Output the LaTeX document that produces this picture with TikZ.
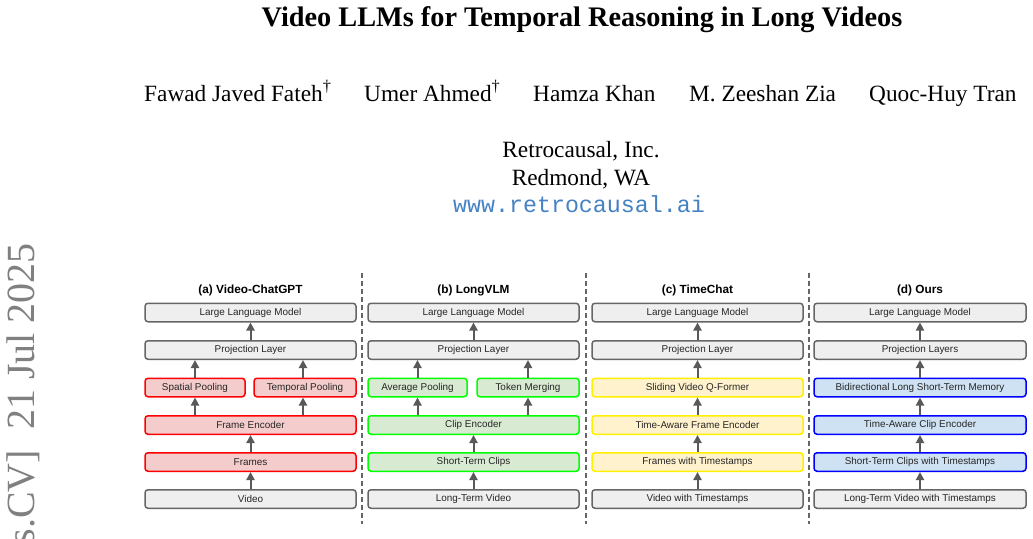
\documentclass[tikz,border=0pt]{standalone}
\usepackage{fontspec}
\setmainfont{Liberation Serif}
\setmonofont{Liberation Mono}
\newfontfamily\arialf{Liberation Sans}
\usetikzlibrary{arrows.meta}
\definecolor{gfill}{HTML}{EFEFEF}
\definecolor{gdraw}{HTML}{666666}
\definecolor{rfill}{HTML}{F4CCCC}
\definecolor{rdraw}{HTML}{FF0000}
\definecolor{grfill}{HTML}{D9EAD3}
\definecolor{grdraw}{HTML}{00FF00}
\definecolor{yfill}{HTML}{FFF2CC}
\definecolor{ydraw}{HTML}{FFF000}
\definecolor{bfill}{HTML}{CFE2F3}
\definecolor{bdraw}{HTML}{0000FF}
\definecolor{arrgray}{HTML}{595959}
\definecolor{linkblue}{RGB}{70,130,195}
\tikzset{
  box/.style={rounded corners=3pt, line width=1.5pt, minimum height=18.5pt, inner sep=0pt,
    font=\arialf\fontsize{9.9}{11}\selectfont, text=black!85},
  gbox/.style={box, draw=gdraw, fill=gfill},
  rbox/.style={box, draw=rdraw, fill=rfill},
  grbox/.style={box, draw=grdraw, fill=grfill},
  ybox/.style={box, draw=ydraw, fill=yfill},
  bbox/.style={box, draw=bdraw, fill=bfill},
  arr/.style={draw=arrgray, line width=2pt, -{Triangle[width=8pt,length=8pt]}},
  divider/.style={draw=gdraw, line width=1.5pt, dash pattern=on 5pt off 3pt},
  ptitle/.style={anchor=base, inner sep=0pt, font=\arialf\bfseries\fontsize{11.8}{13}\selectfont},
  txt/.style={inner sep=0pt, anchor=base},
}
\begin{document}
\begin{tikzpicture}[x=1pt,y=-1pt]
\useasboundingbox (0,0) rectangle (1033,538);
\clip (0,0) rectangle (1033,538);
\fill[white] (0,0) rectangle (1033,538);

% header
\node[txt, font=\fontsize{28.3}{34}\selectfont\bfseries] (title) at (582,26) {Video LLMs for Temporal Reasoning in Long Videos};
\node[txt, anchor=base west, font=\fontsize{23.3}{28}\selectfont] (au1) at (144,101) {Fawad Javed Fateh\textsuperscript{\textdagger}};
\node[txt, anchor=base west, font=\fontsize{23.3}{28}\selectfont] (au2) at (364,101) {Umer Ahmed\textsuperscript{\textdagger}};
\node[txt, anchor=base west, font=\fontsize{23.3}{28}\selectfont] (au3) at (533,101) {Hamza Khan};
\node[txt, anchor=base west, font=\fontsize{23.3}{28}\selectfont] (au4) at (689,101) {M. Zeeshan Zia};
\node[txt, anchor=base west, font=\fontsize{23.3}{28}\selectfont] (au5) at (869,101) {Quoc-Huy Tran};
\node[txt, font=\fontsize{23.3}{28}\selectfont] (aff1) at (581,157) {Retrocausal, Inc.};
\node[txt, font=\fontsize{23.3}{28}\selectfont] (aff2) at (581,185) {Redmond, WA};
\node[txt, font=\ttfamily\fontsize{23.3}{28}\selectfont, text=linkblue] (url) at (579,212) {www.retrocausal.ai};

% arXiv stamp
\node[txt, anchor=base east, rotate=90, text=black!50, font=\fontsize{40}{44}\selectfont] (stamp) at (34,243) {[cs.CV]\ \ 21 Jul 2025};

% dividers
\coordinate (d1t) at (362,273); \coordinate (d1b) at (362,524);
\coordinate (d2t) at (586,273); \coordinate (d2b) at (586,524);
\coordinate (d3t) at (809,273); \coordinate (d3b) at (809,524);
\draw[divider] (d1t) -- (d1b);
\draw[divider] (d2t) -- (d2b);
\draw[divider] (d3t) -- (d3b);

% (a)
\node[ptitle] (ta) at (250.5,293) {(a) Video-ChatGPT};
\node[gbox, minimum width=211pt] (a1) at (250.5,312.5) {Large Language Model};
\node[gbox, minimum width=211pt] (a2) at (250.5,350) {Projection Layer};
\node[rbox, minimum width=100pt] (a3l) at (195,387.5) {Spatial Pooling};
\node[rbox, minimum width=102pt] (a3r) at (305,387.5) {Temporal Pooling};
\node[rbox, minimum width=211pt] (a4) at (250.5,425) {Frame Encoder};
\node[rbox, minimum width=211pt] (a5) at (250.5,462) {Frames};
\node[gbox, minimum width=211pt] (a6) at (250.5,499) {Video};
\draw[arr] (a6) -- (a5);
\draw[arr] (a5) -- (a4);
\draw[arr] (a4.north -| a3l) -- (a3l);
\draw[arr] (a4.north -| 303,0) -- (a3r.south -| 303,0);
\draw[arr] (a3l) -- (a2.south -| a3l);
\draw[arr] (a3r.north -| 303,0) -- (a2.south -| 303,0);
\draw[arr] (a2) -- (a1);

% (b)
\node[ptitle] (tb) at (473.5,293) {(b) LongVLM};
\node[gbox, minimum width=211pt] (b1) at (473.5,312.5) {Large Language Model};
\node[gbox, minimum width=211pt] (b2) at (473.5,350) {Projection Layer};
\node[grbox, minimum width=99pt] (b3l) at (417.5,387.5) {Average Pooling};
\node[grbox, minimum width=102pt] (b3r) at (528,387.5) {Token Merging};
\node[grbox, minimum width=211pt] (b4) at (473.5,425) {Clip Encoder};
\node[grbox, minimum width=211pt] (b5) at (473.5,462) {Short-Term Clips};
\node[gbox, minimum width=211pt] (b6) at (473.5,499) {Long-Term Video};
\draw[arr] (b6) -- (b5);
\draw[arr] (b5) -- (b4);
\draw[arr] (b4.north -| b3l) -- (b3l);
\draw[arr] (b4.north -| b3r) -- (b3r);
\draw[arr] (b3l) -- (b2.south -| b3l);
\draw[arr] (b3r) -- (b2.south -| b3r);
\draw[arr] (b2) -- (b1);

% (c)
\node[ptitle] (tc) at (697.5,293) {(c) TimeChat};
\node[gbox, minimum width=211pt] (c1) at (697.5,312.5) {Large Language Model};
\node[gbox, minimum width=211pt] (c2) at (697.5,350) {Projection Layer};
\node[ybox, minimum width=211pt] (c3) at (697.5,387.5) {Sliding Video Q-Former};
\node[ybox, minimum width=211pt] (c4) at (697.5,425) {Time-Aware Frame Encoder};
\node[ybox, minimum width=211pt] (c5) at (697.5,462) {Frames with Timestamps};
\node[gbox, minimum width=211pt] (c6) at (697.5,499) {Video with Timestamps};
\draw[arr] (c6) -- (c5);
\draw[arr] (c5) -- (c4);
\draw[arr] (c4) -- (c3);
\draw[arr] (c3) -- (c2);
\draw[arr] (c2) -- (c1);

% (d)
\node[ptitle] (td) at (920,293) {(d) Ours};
\node[gbox, minimum width=212pt] (e1) at (920,312.5) {Large Language Model};
\node[gbox, minimum width=212pt] (e2) at (920,350) {Projection Layers};
\node[bbox, minimum width=212pt] (e3) at (920,387.5) {Bidirectional Long Short-Term Memory};
\node[bbox, minimum width=212pt] (e4) at (920,425) {Time-Aware Clip Encoder};
\node[bbox, minimum width=212pt] (e5) at (920,462) {Short-Term Clips with Timestamps};
\node[gbox, minimum width=212pt] (e6) at (920,499) {Long-Term Video with Timestamps};
\draw[arr] (e6) -- (e5);
\draw[arr] (e5) -- (e4);
\draw[arr] (e4) -- (e3);
\draw[arr] (e3) -- (e2);
\draw[arr] (e2) -- (e1);
\end{tikzpicture}
\end{document}
